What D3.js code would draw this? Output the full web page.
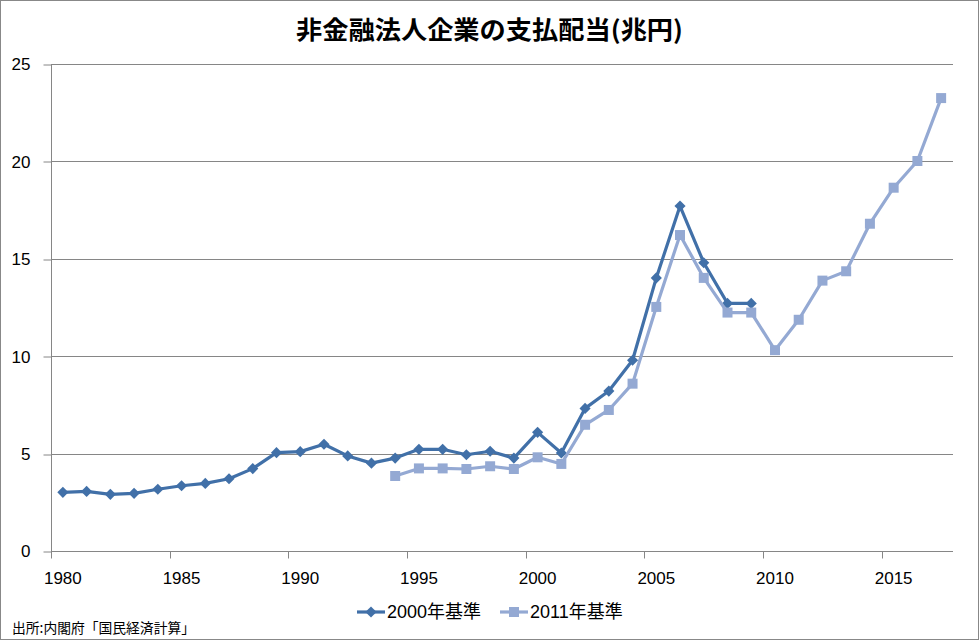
<!DOCTYPE html>
<html><head><meta charset="utf-8">
<script src="https://cdn.jsdelivr.net/npm/d3@7"></script>
<style>
html,body{margin:0;padding:0;background:#fff;}
svg{display:block;}
</style>
</head><body>
<svg id="chart" width="979" height="640"></svg>
<script>
const chartTitle = "非金融法人企業の支払配当(兆円)";
const sourceNote = "出所:内閣府「国民経済計算」";
const seriesNames = ["2000年基準", "2011年基準"];
const categories = ["1980","1981","1982","1983","1984","1985","1986","1987","1988","1989",
  "1990","1991","1992","1993","1994","1995","1996","1997","1998","1999",
  "2000","2001","2002","2003","2004","2005","2006","2007","2008","2009",
  "2010","2011","2012","2013","2014","2015","2016","2017"];
const xTickLabels = ["1980","1985","1990","1995","2000","2005","2010","2015"];
const yTicks = [0, 5, 10, 15, 20, 25];
// 2000年基準 (1980-2009)
const series2000 = [3.01,3.06,2.91,2.96,3.17,3.35,3.47,3.71,4.23,5.05,
  5.10,5.48,4.88,4.51,4.77,5.22,5.22,4.94,5.12,4.77,
  6.09,5.03,7.32,8.21,9.79,14.02,17.71,14.80,12.71,12.71,
  null,null,null,null,null,null,null,null];
// 2011年基準 (1994-2017)
const series2011 = [null,null,null,null,null,null,null,null,null,null,
  null,null,null,null,3.85,4.24,4.24,4.21,4.35,4.21,
  4.81,4.47,6.48,7.24,8.59,12.53,16.22,14.02,12.24,12.24,
  10.31,11.87,13.88,14.36,16.80,18.65,20.02,23.25];

const colors = ["#4170a8", "#94a9d3"];
const axisColor = "#868686";
const latin = "'Liberation Sans', 'Noto Sans CJK JP', sans-serif";

const svg = d3.select("#chart");
const W = 979, H = 640;
const plot = {left: 51, right: 953, top: 64, bottom: 551};

svg.append("rect").attr("x",0.5).attr("y",0.5).attr("width",W-1).attr("height",H-1)
  .attr("fill","#fff").attr("stroke","#888").attr("stroke-width",1);

const x = d3.scaleBand().domain(categories).range([plot.left, plot.right]).padding(0);
const y = d3.scaleLinear().domain([0, 25]).range([plot.bottom, plot.top]);
const cx = c => x(c) + x.bandwidth()/2;

// gridlines
svg.append("g").selectAll("line").data(yTicks.filter(d => d > 0)).join("line")
  .attr("x1", plot.left).attr("x2", plot.right)
  .attr("y1", d => Math.round(y(d)) + 0.5).attr("y2", d => Math.round(y(d)) + 0.5)
  .attr("stroke", axisColor).attr("stroke-width", 1);

// y axis
const yAxis = d3.axisLeft(y).tickValues(yTicks).tickSize(8).tickPadding(13).tickFormat(d3.format("d"));
const gy = svg.append("g").attr("transform", `translate(${plot.left + 0.5},0.5)`).call(yAxis);
gy.select(".domain").attr("stroke", axisColor).attr("d", `M0,${plot.top - 0.5}V${plot.bottom}`);
gy.selectAll(".tick line").attr("stroke", axisColor).attr("transform", d => `translate(0,${Math.round(y(d)) - y(d)})`);
gy.selectAll(".tick text").attr("font-family", latin).attr("font-size", 17).attr("fill", "#000");

// x axis
const xAxis = d3.axisBottom(x).tickValues(xTickLabels).tickSize(0).tickPadding(20);
const gx = svg.append("g").attr("transform", `translate(0,${plot.bottom + 0.5})`).call(xAxis);
gx.select(".domain").attr("stroke", axisColor).attr("d", `M${plot.left},0H${plot.right}`);
gx.selectAll(".tick text").attr("font-family", latin).attr("font-size", 17).attr("fill", "#000");
// category boundary tick marks every 5
gx.append("g").selectAll("line").data(xTickLabels).join("line")
  .attr("x1", d => Math.round(x(d)) + 0.5).attr("x2", d => Math.round(x(d)) + 0.5)
  .attr("y1", 0).attr("y2", 7).attr("stroke", axisColor);

// series
const line = d3.line().defined(d => d.v != null).x(d => cx(d.c)).y(d => y(d.v));
const allSeries = [series2000, series2011];
const diamond = d3.symbol().type(d3.symbolSquare).size(62);
const square = d3.symbol().type(d3.symbolSquare).size(100);

allSeries.forEach((s, i) => {
  const pts = categories.map((c, j) => ({c, v: s[j]}));
  const g = svg.append("g");
  g.append("path").datum(pts).attr("d", line).attr("fill", "none")
    .attr("stroke", colors[i]).attr("stroke-width", 3.2).attr("stroke-linejoin", "round");
  g.selectAll("path.m").data(pts.filter(d => d.v != null)).join("path").attr("class","m")
    .attr("d", i === 0 ? diamond : square)
    .attr("transform", d => `translate(${cx(d.c)},${y(d.v)})` + (i === 0 ? " rotate(45)" : ""))
    .attr("fill", colors[i]);
});

// title
svg.append("text").attr("x", 489.5).attr("y", 39).attr("text-anchor", "middle")
  .attr("font-family", "'Noto Sans CJK JP', sans-serif").attr("font-weight", "bold")
  .attr("font-size", 25).attr("textLength", 387).attr("lengthAdjust", "spacingAndGlyphs")
  .text(chartTitle);

// legend
const legendItems = [{x: 357, tx: 387}, {x: 500, tx: 530}];
legendItems.forEach((L, i) => {
  const g = svg.append("g");
  g.append("line").attr("x1", L.x).attr("x2", L.x + 28).attr("y1", 612).attr("y2", 612)
    .attr("stroke", colors[i]).attr("stroke-width", 3.2);
  g.append("path").attr("d", i === 0 ? diamond : square)
    .attr("transform", `translate(${L.x + 14},612)` + (i === 0 ? " rotate(45)" : ""))
    .attr("fill", colors[i]);
  g.append("text").attr("x", L.tx).attr("y", 618).attr("font-family", latin)
    .attr("font-size", 18).attr("fill", "#000").text(seriesNames[i]);
});

// source
svg.append("text").attr("x", 12).attr("y", 633).attr("font-family", "'Noto Sans CJK JP', sans-serif")
  .attr("font-size", 14).attr("textLength", 183).attr("lengthAdjust", "spacingAndGlyphs")
  .attr("fill", "#000").text(sourceNote);
</script>
</body></html>
